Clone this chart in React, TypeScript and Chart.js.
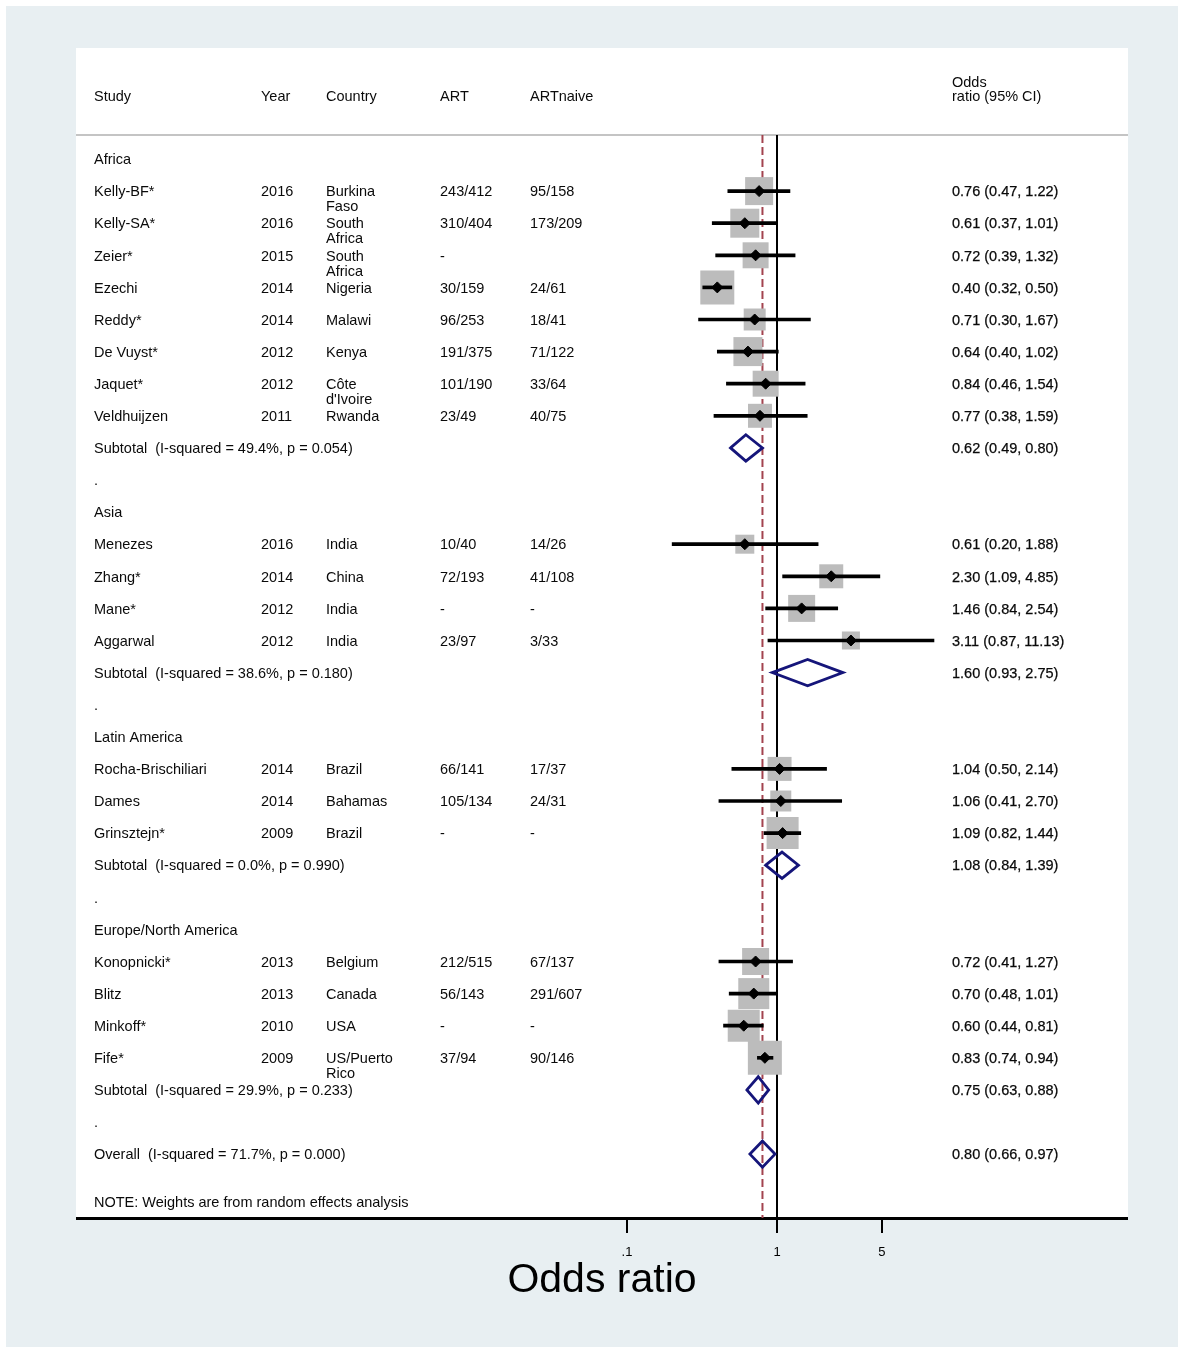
import { useEffect, useRef } from 'react';
import { Chart, registerables } from 'chart.js';

Chart.register(...registerables);

// ---- data ----
const regionNames = ['Africa', 'Asia', 'Latin America', 'Europe/North America'];

const studyNames = [
  'Kelly-BF*', 'Kelly-SA*', 'Zeier*', 'Ezechi', 'Reddy*', 'De Vuyst*', 'Jaquet*', 'Veldhuijzen',
  'Menezes', 'Zhang*', 'Mane*', 'Aggarwal',
  'Rocha-Brischiliari', 'Dames', 'Grinsztejn*',
  'Konopnicki*', 'Blitz', 'Minkoff*', 'Fife*',
];
const studyRegion = [0, 0, 0, 0, 0, 0, 0, 0, 1, 1, 1, 1, 2, 2, 2, 3, 3, 3, 3];
const studyYears = [
  '2016', '2016', '2015', '2014', '2014', '2012', '2012', '2011',
  '2016', '2014', '2012', '2012',
  '2014', '2014', '2009',
  '2013', '2013', '2010', '2009',
];
const studyCountries = [
  'Burkina\nFaso', 'South\nAfrica', 'South\nAfrica', 'Nigeria', 'Malawi', 'Kenya', "Côte\nd'Ivoire", 'Rwanda',
  'India', 'China', 'India', 'India',
  'Brazil', 'Bahamas', 'Brazil',
  'Belgium', 'Canada', 'USA', 'US/Puerto\nRico',
];
const artCounts = [
  '243/412', '310/404', '-', '30/159', '96/253', '191/375', '101/190', '23/49',
  '10/40', '72/193', '-', '23/97',
  '66/141', '105/134', '-',
  '212/515', '56/143', '-', '37/94',
];
const artNaiveCounts = [
  '95/158', '173/209', '', '24/61', '18/41', '71/122', '33/64', '40/75',
  '14/26', '41/108', '-', '3/33',
  '17/37', '24/31', '-',
  '67/137', '291/607', '-', '90/146',
];
const oddsRatios = [
  0.76, 0.61, 0.72, 0.40, 0.71, 0.64, 0.84, 0.77,
  0.61, 2.30, 1.46, 3.11,
  1.04, 1.06, 1.09,
  0.72, 0.70, 0.60, 0.83,
];
const ciLower = [
  0.47, 0.37, 0.39, 0.32, 0.30, 0.40, 0.46, 0.38,
  0.20, 1.09, 0.84, 0.87,
  0.50, 0.41, 0.82,
  0.41, 0.48, 0.44, 0.74,
];
const ciUpper = [
  1.22, 1.01, 1.32, 0.50, 1.67, 1.02, 1.54, 1.59,
  1.88, 4.85, 2.54, 11.13,
  2.14, 2.70, 1.44,
  1.27, 1.01, 0.81, 0.94,
];
// random-effects weights (%)
const weights = [
  5.63, 6.04, 4.85, 8.30, 3.47, 6.04, 4.85, 4.13,
  2.59, 4.13, 5.23, 2.33,
  4.13, 3.16, 7.35,
  5.23, 6.90, 7.35, 8.30,
];

const subtotalOR = [0.62, 1.60, 1.08, 0.75];
const subtotalLower = [0.49, 0.93, 0.84, 0.63];
const subtotalUpper = [0.80, 2.75, 1.39, 0.88];
const subtotalISquared = ['49.4%', '38.6%', '0.0%', '29.9%'];
const subtotalP = ['0.054', '0.180', '0.990', '0.233'];

const overallOR = 0.80;
const overallLower = 0.66;
const overallUpper = 0.97;
const overallISquared = '71.7%';
const overallP = '0.000';

const xTickValues = [0.1, 1, 5];
const xTickLabels = ['.1', '1', '5'];

// ---- layout ----
const W = 1178;
const H = 1347;
const FONT = '"Liberation Sans", Arial, Helvetica, sans-serif';
const TEXT_SIZE = 14.5;
const TEXT_NUDGE = 1.2; // px, text middle vs. marker centre
const PLOT_LEFT = 77;
const PLOT_RIGHT = 1127;
const PLOT_TOP = 48;
const PLOT_BOTTOM = 1218;
const X_AT_ONE = 777;
const PX_PER_DECADE = 150;
const FIRST_ROW_Y = 159;
const ROW_PX = 32.1;
const BOX_SCALE = 11.8; // px of box side per sqrt(weight %)
const DIAMOND_HALF = 0.41; // rows

const COL = { study: 94, year: 261, country: 326, art: 440, artNaive: 530, or: 952 };

const xMin = Math.pow(10, (PLOT_LEFT - X_AT_ONE) / PX_PER_DECADE);
const xMax = Math.pow(10, (PLOT_RIGHT - X_AT_ONE) / PX_PER_DECADE);
const yMin = (PLOT_TOP - FIRST_ROW_Y) / ROW_PX;
const yMax = (PLOT_BOTTOM - FIRST_ROW_Y) / ROW_PX;

// row index for each line of the table
const regionRow: number[] = [];
const studyRow: number[] = [];
const subtotalRow: number[] = [];
const dotRow: number[] = [];
let rowCursor = 0;
regionNames.forEach((_, g) => {
  regionRow[g] = rowCursor++;
  studyNames.forEach((__, i) => {
    if (studyRegion[i] === g) studyRow[i] = rowCursor++;
  });
  subtotalRow[g] = rowCursor++;
  dotRow[g] = rowCursor++;
});
const overallRow = rowCursor;
const noteRow = overallRow + 1.5;
const headerRow = -1.97;
const headerRuleRow = -0.75;

const fmt = (v: number) => v.toFixed(2);
const ciText = (e: number, lo: number, hi: number) => `${fmt(e)} (${fmt(lo)}, ${fmt(hi)})`;

const diamond = (est: number, lo: number, hi: number, row: number) => [
  { x: lo, y: row },
  { x: est, y: row - DIAMOND_HALF },
  { x: hi, y: row },
  { x: est, y: row + DIAMOND_HALF },
  { x: lo, y: row },
  { x: est, y: row - DIAMOND_HALF },
];

const NAVY = '#15157a';

const backgroundPlugin = {
  id: 'forestBackground',
  beforeDraw(chart: any) {
    const { ctx } = chart;
    const y = chart.scales.y;
    ctx.save();
    ctx.fillStyle = '#ffffff';
    ctx.fillRect(0, 0, W, H);
    ctx.fillStyle = 'rgb(232,239,242)';
    ctx.fillRect(6, 6, W - 6, H - 6);
    ctx.fillStyle = '#ffffff';
    ctx.fillRect(76, PLOT_TOP, 1128 - 76, PLOT_BOTTOM - PLOT_TOP);
    const ry = y.getPixelForValue(headerRuleRow);
    ctx.strokeStyle = '#c4c4c4';
    ctx.lineWidth = 2;
    ctx.beginPath();
    ctx.moveTo(76, ry);
    ctx.lineTo(1128, ry);
    ctx.stroke();
    ctx.restore();
  },
};

const tablePlugin = {
  id: 'forestTable',
  afterDatasetsDraw(chart: any) {
    const { ctx } = chart;
    const y = chart.scales.y;
    ctx.save();
    ctx.fillStyle = '#0a0a0a';
    ctx.strokeStyle = '#0a0a0a';
    ctx.font = `${TEXT_SIZE}px ${FONT}`;
    ctx.textAlign = 'left';
    ctx.textBaseline = 'middle';
    const put = (text: string, x: number, row: number, heavy = false) => {
      const py = y.getPixelForValue(row) + TEXT_NUDGE;
      text.split('\n').forEach((line, k) => {
        ctx.fillText(line, x, py + k * 15);
        if (heavy) {
          ctx.lineWidth = 0.25;
          ctx.strokeText(line, x, py + k * 15);
        }
      });
    };

    const hy = y.getPixelForValue(headerRow) + TEXT_NUDGE;
    ctx.fillText('Study', COL.study, hy);
    ctx.fillText('Year', COL.year, hy);
    ctx.fillText('Country', COL.country, hy);
    ctx.fillText('ART', COL.art, hy);
    ctx.fillText('ARTnaive', COL.artNaive, hy);
    ctx.fillText('Odds', COL.or, hy - 14);
    ctx.fillText('ratio (95% CI)', COL.or, hy);

    regionNames.forEach((name, g) => {
      put(name, COL.study, regionRow[g]);
      put(`Subtotal  (I-squared = ${subtotalISquared[g]}, p = ${subtotalP[g]})`, COL.study, subtotalRow[g]);
      put(ciText(subtotalOR[g], subtotalLower[g], subtotalUpper[g]), COL.or, subtotalRow[g], true);
      put('.', COL.study, dotRow[g]);
    });

    studyNames.forEach((name, i) => {
      const r = studyRow[i];
      put(name, COL.study, r);
      put(studyYears[i], COL.year, r);
      put(studyCountries[i], COL.country, r);
      put(artCounts[i], COL.art, r);
      put(artNaiveCounts[i], COL.artNaive, r);
      put(ciText(oddsRatios[i], ciLower[i], ciUpper[i]), COL.or, r, true);
    });

    put(`Overall  (I-squared = ${overallISquared}, p = ${overallP})`, COL.study, overallRow);
    put(ciText(overallOR, overallLower, overallUpper), COL.or, overallRow, true);
    put('NOTE: Weights are from random effects analysis', COL.study, noteRow);
    ctx.restore();
  },
};

export default function App() {
  const canvasRef = useRef<HTMLCanvasElement>(null);

  useEffect(() => {
    const canvas = canvasRef.current;
    if (!canvas) return;

    const datasets: any[] = [
      {
        label: 'null line',
        data: [{ x: 1, y: headerRuleRow }, { x: 1, y: yMax }],
        showLine: true,
        pointRadius: 0,
        borderColor: '#000000',
        borderWidth: 2,
        order: 10,
      },
      {
        label: 'overall estimate',
        data: [{ x: overallOR, y: headerRuleRow }, { x: overallOR, y: yMax }],
        showLine: true,
        pointRadius: 0,
        borderColor: '#a3434f',
        borderWidth: 2,
        borderDash: [8, 4],
        order: 9,
      },
      {
        label: 'weights',
        data: studyNames.map((_, i) => ({ x: oddsRatios[i], y: studyRow[i] })),
        pointStyle: 'rect',
        pointRadius: weights.map((w) => (BOX_SCALE * Math.sqrt(w)) / Math.SQRT2),
        backgroundColor: '#bcbcbc',
        borderWidth: 0,
        order: 8,
      },
      {
        type: 'bar',
        label: '95% CI',
        indexAxis: 'y',
        data: studyNames.map((_, i) => ({ x: [ciLower[i], ciUpper[i]], y: studyRow[i] })),
        backgroundColor: '#000000',
        borderWidth: 0,
        borderSkipped: false,
        barThickness: 3,
        grouped: false,
        order: 6,
      },
      {
        label: 'odds ratio',
        data: studyNames.map((_, i) => ({ x: oddsRatios[i], y: studyRow[i] })),
        pointStyle: 'rectRot',
        pointRadius: 5.5,
        backgroundColor: '#000000',
        borderColor: '#000000',
        borderWidth: 1,
        order: 4,
      },
      ...regionNames.map((name, g) => ({
        label: `${name} subtotal`,
        data: diamond(subtotalOR[g], subtotalLower[g], subtotalUpper[g], subtotalRow[g]),
        showLine: true,
        pointRadius: 0,
        borderColor: NAVY,
        borderWidth: 2.8,
        borderJoinStyle: 'miter',
        fill: false,
        order: 2,
      })),
      {
        label: 'overall',
        data: diamond(overallOR, overallLower, overallUpper, overallRow),
        showLine: true,
        pointRadius: 0,
        borderColor: NAVY,
        borderWidth: 2.8,
        borderJoinStyle: 'miter',
        fill: false,
        order: 2,
      },
    ];

    const chart = new Chart(canvas, {
      type: 'scatter',
      data: { datasets },
      options: {
        animation: false,
        responsive: false,
        devicePixelRatio: 1,
        events: [],
        layout: { padding: { left: PLOT_LEFT, right: W - PLOT_RIGHT, top: PLOT_TOP, bottom: 0 } },
        plugins: { legend: { display: false }, tooltip: { enabled: false } },
        scales: {
          x: {
            type: 'logarithmic',
            position: 'bottom',
            min: xMin,
            max: xMax,
            bounds: 'data',
            offset: false,
            afterBuildTicks: (scale: any) => {
              scale.ticks = xTickValues.map((v) => ({ value: v }));
            },
            afterFit: (scale: any) => {
              scale.height = H - PLOT_BOTTOM;
            },
            grid: {
              display: true,
              drawOnChartArea: false,
              drawTicks: true,
              tickLength: 15,
              lineWidth: 2,
              color: '#000000',
            },
            border: { display: true, color: '#000000', width: 3 },
            ticks: {
              autoSkip: false,
              maxRotation: 0,
              padding: 12,
              color: '#000000',
              font: { family: FONT, size: 13 },
              callback: (_v: any, index: number) => xTickLabels[index],
            },
            title: {
              display: true,
              text: 'Odds ratio',
              color: '#000000',
              font: { family: FONT, size: 41 },
              padding: { top: 0, bottom: 42 },
            },
          },
          y: {
            type: 'linear',
            reverse: true,
            min: yMin,
            max: yMax,
            bounds: 'data',
            offset: false,
            display: false,
          },
        },
      } as any,
      plugins: [backgroundPlugin, tablePlugin],
    });

    return () => chart.destroy();
  }, []);

  return (
    <div style={{ position: 'absolute', left: 0, top: 0, width: W, height: H }}>
      <canvas ref={canvasRef} width={W} height={H} style={{ display: 'block', width: W, height: H }} />
    </div>
  );
}
